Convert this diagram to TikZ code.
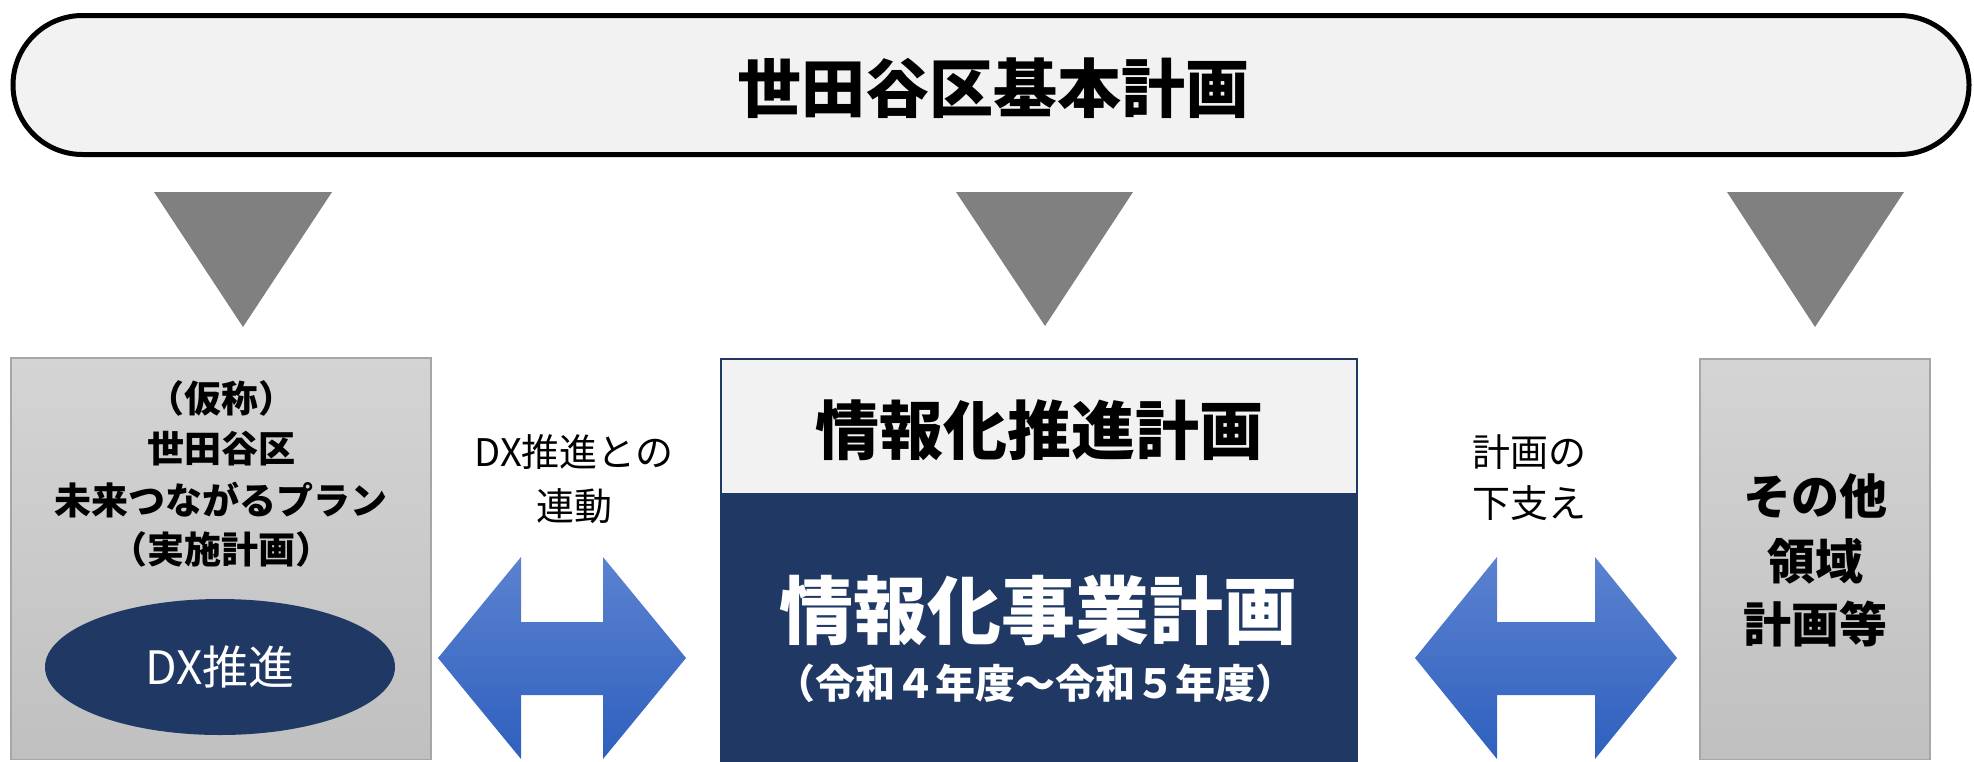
\documentclass[tikz,border=0pt]{standalone}
\usepackage{fontspec}
\setmainfont{Noto Sans CJK JP}
\usetikzlibrary{shapes.geometric}
\definecolor{navy}{RGB}{32,56,100}
\definecolor{lightfill}{RGB}{242,242,242}
\definecolor{trigray}{RGB}{128,128,128}
\definecolor{boxtop}{RGB}{212,212,212}
\definecolor{boxbot}{RGB}{192,192,192}
\definecolor{boxline}{RGB}{166,166,166}
\definecolor{arrtop}{RGB}{92,130,208}
\definecolor{arrbot}{RGB}{46,96,190}
\tikzset{
  tri/.style={fill=trigray},
  graybox/.style={top color=boxtop, bottom color=boxbot, draw=boxline, line width=1.2pt},
  dblarrow/.style={top color=arrtop, bottom color=arrbot},
  boldtxt/.style={font=\bfseries\fontsize{#1}{#1}\selectfont, inner sep=0pt},
  boldline/.style={font=\bfseries\fontsize{#1}{#1}\selectfont, inner sep=0pt, anchor=base},
  regline/.style={font=\fontsize{#1}{#1}\selectfont, inner sep=0pt, anchor=base},
}
\begin{document}
\begin{tikzpicture}[x=1pt,y=-1pt]
\useasboundingbox (0,0) rectangle (1974,761);
% top stadium
\draw[fill=lightfill, line width=5pt, rounded corners=69.5pt] (13,15.5) rectangle (1969,154.5);
\node[boldtxt=64] (title) at (993,88) {世田谷区基本計画};
% triangles
\fill[tri] (154,192) -- (332,192) -- (243,327) -- cycle;
\fill[tri] (956,192) -- (1133,192) -- (1045,326) -- cycle;
\fill[tri] (1727,192) -- (1904,192) -- (1815,327) -- cycle;
% left box
\shade[graybox] (11,358) rectangle (431,759.5);
\draw[boxline, line width=1.2pt] (11,358) rectangle (431,759.5);
\node[boldline=37] (plan1) at (221,412) {（仮称）};
\node[boldline=37] (plan2) at (221,462) {世田谷区};
\node[boldline=37] (plan3) at (221,514) {未来つながるプラン};
\node[boldline=37] (plan4) at (221,563) {（実施計画）};
\node[ellipse, fill=navy, minimum width=350pt, minimum height=136pt, inner sep=0pt,
  text=white, font=\fontsize{46}{46}\selectfont] (dx) at (220,667) {DX推進};
% center box
\fill[lightfill] (721,359) rectangle (1357,493);
\fill[navy] (721,493) rectangle (1357,762);
\draw[navy, line width=1.5pt] (721,762) -- (721,359) -- (1357,359) -- (1357,762);
\node[boldtxt=64] (info) at (1039,430) {情報化推進計画};
\node[boldtxt=74, text=white] (biz) at (1038,610) {情報化事業計画};
\node[boldtxt=40, text=white] (period) at (1035,683) {（令和４年度～令和５年度）};
% right box
\shade[graybox] (1700,359) rectangle (1930,759.5);
\draw[boxline, line width=1.2pt] (1700,359) rectangle (1930,759.5);
\node[boldline=48] (other1) at (1815,514) {その他};
\node[boldline=48] (other2) at (1815,579) {領域};
\node[boldline=48] (other3) at (1815,642) {計画等};
% arrows
\shade[dblarrow] (438,658) -- (521,557) -- (521,622) -- (603,622) -- (603,557) -- (686,658)
  -- (603,759) -- (603,695) -- (521,695) -- (521,759) -- cycle;
\shade[dblarrow] (1415,658) -- (1497,557) -- (1497,622) -- (1595,622) -- (1595,557) -- (1677,658)
  -- (1595,759) -- (1595,695) -- (1497,695) -- (1497,759) -- cycle;
\node[regline=38] (link1) at (574,466.5) {DX推進との};
\node[regline=38] (link2) at (574,520.5) {連動};
\node[regline=38] (sup1) at (1529,466.5) {計画の};
\node[regline=38] (sup2) at (1529,517.5) {下支え};
\end{tikzpicture}
\end{document}
